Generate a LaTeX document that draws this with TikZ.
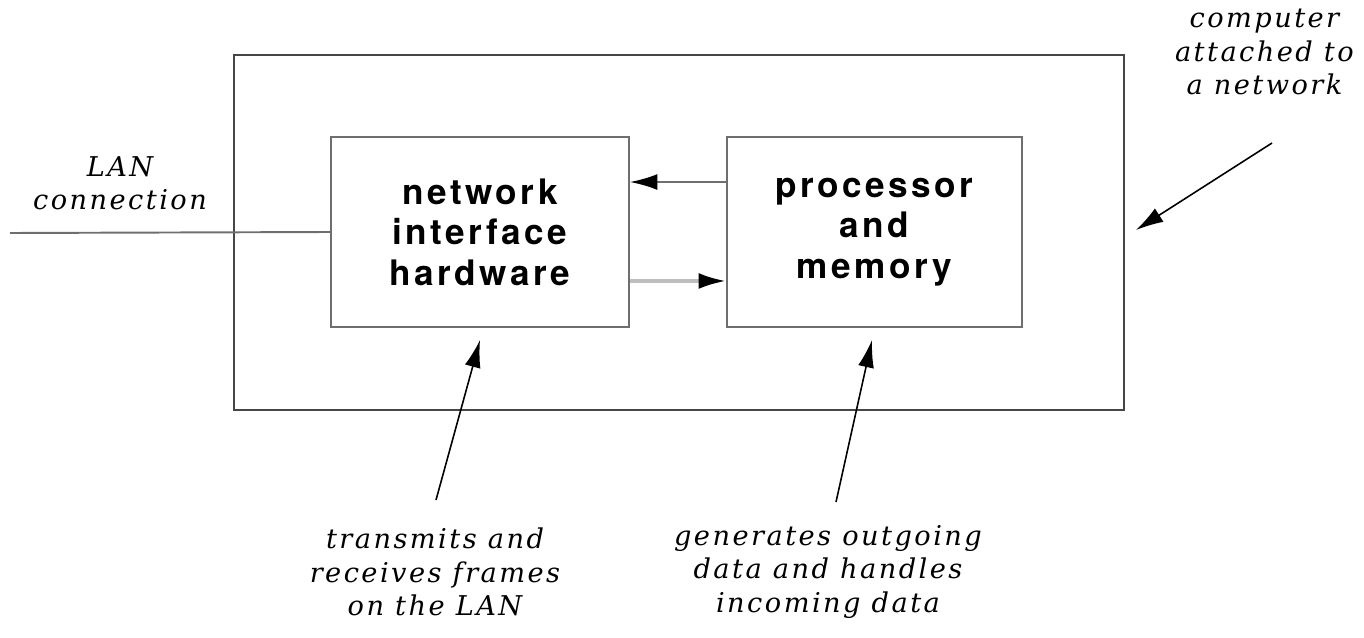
\documentclass[tikz,border=0pt]{standalone}
\usepackage{fontspec}
\usetikzlibrary{arrows,arrows.meta,positioning}
\newfontfamily\boxfont[LetterSpace=10]{TeX Gyre Heros}
\newfontfamily\notefont[LetterSpace=9]{DejaVu Serif}
\definecolor{ln}{RGB}{110,110,110}
\definecolor{lnlight}{RGB}{190,190,190}
\definecolor{frame}{RGB}{70,70,70}
\tikzstyle{unit} = [draw=ln, line width=1.1pt, minimum height=3.8cm, align=center,
  font=\boxfont\bfseries\fontsize{20}{23}\selectfont]
\tikzstyle{note} = [align=center, font=\notefont\itshape\fontsize{15.5}{19}\selectfont]
\tikzstyle{arr} = [-{Latex[length=5.5mm,width=3.2mm,color=black]}]

\begin{document}
\begin{tikzpicture}[x=0.02cm, y=-0.02cm]
\useasboundingbox (0,0) rectangle (1364,638);
% computer box
\node[draw=frame, line width=1.1pt, minimum width=17.8cm, minimum height=7.1cm] (host) at (679,232.5) {};
\node[unit, minimum width=5.96cm] (nic) at (480,232) {network\\interface\\hardware};
\node[unit, minimum width=5.9cm] (proc) at (874.5,232) {processor\\and\\memory};
% LAN
\coordinate (lanend) at (10,233);
\node[note] (lan) at (120,183) {LAN\\connection};
\draw[ln, line width=1.1pt] (lanend) -- (nic.west);
% between the boxes
\draw[arr, ln, line width=1.1pt] ([yshift=1cm]proc.west) -- ([yshift=1cm]nic.east);
\draw[arr, lnlight, line width=2pt] ([yshift=-0.98cm]nic.east) -- ([yshift=-0.98cm]proc.west);
% notes
\node[note, anchor=north east] (comp) at (1360,3) {computer\\attached to\\a network};
\coordinate (comptip) at (1136,230);
\coordinate (compfoot) at (1272,143);
\draw[arr, black, line width=0.9pt] (compfoot) -- (comptip);
\node[note] (txrx) at (435,572) {transmits and\\receives frames\\on the LAN};
\coordinate (txfoot) at (436,500);
\coordinate (txtip) at (480,340);
\draw[arr, black, line width=0.9pt] (txfoot) -- (txtip);
\node[note] (gen) at (828,572) {generates outgoing\\data and handles\\incoming data};
\coordinate (genfoot) at (836,502);
\coordinate (gentip) at (872,340);
\draw[arr, black, line width=0.9pt] (genfoot) -- (gentip);
\end{tikzpicture}
\end{document}
